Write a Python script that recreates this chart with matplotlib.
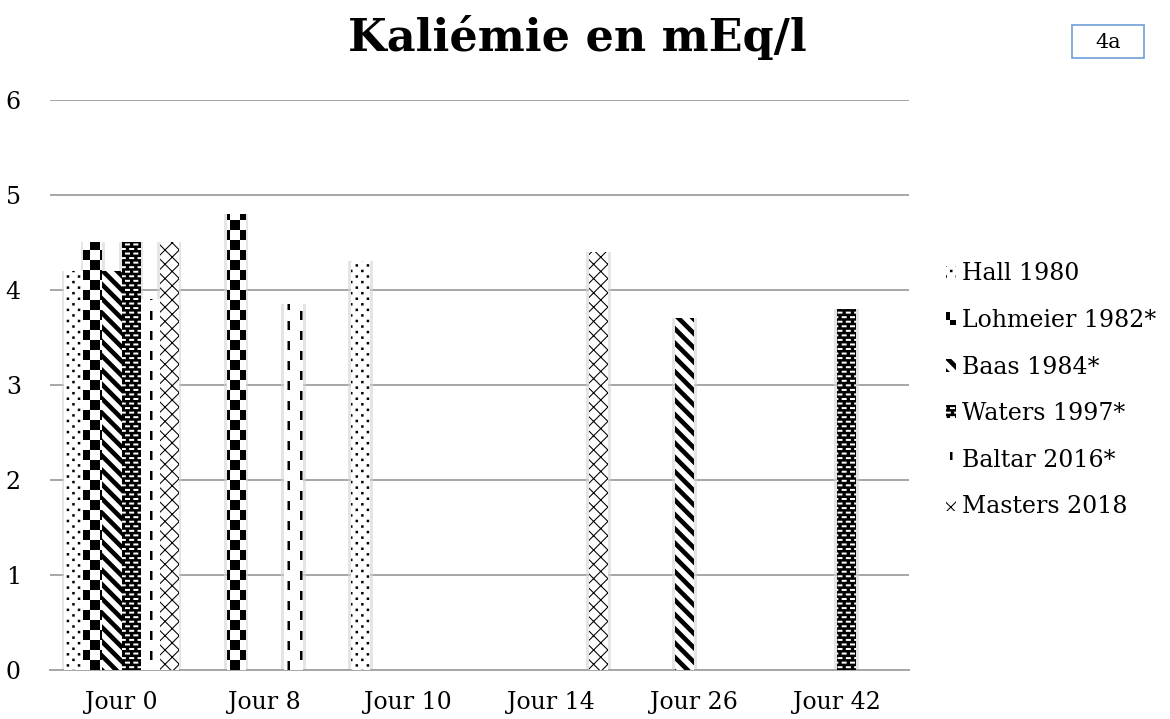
import matplotlib
matplotlib.use("Agg")
import matplotlib.hatch as mhatch
import matplotlib.pyplot as plt
import numpy as np
from matplotlib.patches import Rectangle
from matplotlib.path import Path

days = ["Jour 0", "Jour 8", "Jour 10", "Jour 14", "Jour 26", "Jour 42"]
studies = ["Hall 1980", "Lohmeier 1982*", "Baas 1984*", "Waters 1997*",
           "Baltar 2016*", "Masters 2018"]
hall = [4.2, None, 4.3, None, None, None]
lohmeier = [4.5, 4.8, None, None, None, None]
baas = [4.2, None, None, None, 3.7, None]
waters = [4.5, None, None, None, None, 3.8]
baltar = [3.9, 3.85, None, None, None, None]
masters = [4.5, None, None, 4.4, None, None]
yticks = [0, 1, 2, 3, 4, 5, 6]

plt.rcParams["font.family"] = ["DejaVu Serif"]
plt.rcParams["hatch.linewidth"] = 0.0


# --- Excel-like fill patterns, built as filled shapes in the unit hatch tile ---
def rect(x0, y0, w, h):
    return [(x0, y0), (x0 + w, y0), (x0 + w, y0 + h), (x0, y0 + h)]


def poly_path(polys):
    verts, codes = [], []
    for p in polys:
        verts += list(p) + [p[0]]
        codes += [Path.MOVETO] + [Path.LINETO] * (len(p) - 1) + [Path.CLOSEPOLY]
    return Path(np.array(verts, float), codes)


def back_bands(n, w):
    # stripes running top-left -> bottom-right
    return [[(c + 1, -1), (c - 2, 2), (c + w - 2, 2), (c + w + 1, -1)]
            for c in (k / n for k in range(-1, 2 * n + 1))]


def fwd_bands(n, w):
    return [[(c - 1, -1), (c + 2, 2), (c + w + 2, 2), (c + w - 1, -1)]
            for c in (k / n for k in range(-n - 1, n + 1))]


def staggered(nx, ny, w, h):
    out = []
    for j in range(ny):
        off = 0.5 / nx if j % 2 else 0.0
        for i in range(nx):
            out.append(rect(i / nx + off, j / ny, w, h))
    return out


def checker(n):
    return [rect(i / n, j / n, 1 / n, 1 / n)
            for i in range(n) for j in range(n) if (i + j) % 2 == 0]


def dashes(ncol, nrow, w, h):
    out = []
    for i in range(ncol):
        off = 0.5 / nrow if i % 2 else 0.0
        for j in range(nrow):
            out.append(rect(i / ncol, j / nrow + off, w, h))
    return out


FILLS = {
    ".": poly_path(staggered(9, 18, 0.025, 0.025)),
    "+": poly_path(checker(10)),
    "\\": poly_path(back_bands(7, 0.065)),
    "-": poly_path(staggered(12, 22, 0.05, 0.02)),
    "|": poly_path(dashes(8, 5, 0.025, 0.09)),
    "x": poly_path(back_bands(7, 0.015) + fwd_bands(7, 0.015)),
}
_orig_get_path = mhatch.get_path


def get_path(pattern, density=6):
    if pattern in FILLS:
        return FILLS[pattern]
    return _orig_get_path(pattern, density)


mhatch.get_path = get_path

series = [hall, lohmeier, baas, waters, baltar, masters]
hatches = [".", "+", "\\", "-", "|", "x"]
faces = ["white", "white", "white", "black", "white", "white"]
hatch_colors = ["black", "black", "black", "white", "black", "black"]

fig = plt.figure(figsize=(11.7, 7.19), dpi=100)
ax = fig.add_axes([0.0427, 0.0682, 0.734, 0.793])

x = np.arange(len(days))
width = 0.133
handles = []
for i, (vals, label) in enumerate(zip(series, studies)):
    v = np.array([np.nan if a is None else a for a in vals], float)
    pos = x + (i - 2.5) * width
    ax.bar(pos, v, width * 1.3, color="#d4d4d4", alpha=0.6, linewidth=0, zorder=2)
    bars = ax.bar(pos, v, width, facecolor=faces[i], edgecolor=hatch_colors[i],
                  linewidth=0, hatch=hatches[i], label=label, zorder=3)
    handles.append(bars)

ax.set_xlim(-0.5, len(days) - 0.5)
ax.set_ylim(0, 6)
ax.set_yticks(yticks)
ax.set_xticks(x)
ax.set_xticklabels(days)
ax.tick_params(axis="both", length=0, labelsize=17)
ax.tick_params(axis="y", pad=21)
ax.tick_params(axis="x", pad=15)
ax.yaxis.grid(True, color="#a6a6a6", linewidth=1.4)
ax.set_axisbelow(True)
for side in ["left", "right", "top"]:
    ax.spines[side].set_visible(False)
ax.spines["bottom"].set_color("#a6a6a6")
ax.spines["bottom"].set_linewidth(1.4)

ax.legend(handles=handles, loc="center left", bbox_to_anchor=(934 / 1170, 0.457),
          bbox_transform=fig.transFigure, frameon=False, fontsize=17,
          handlelength=0.45, handleheight=0.45, handletextpad=0.25,
          labelspacing=1.0, borderpad=0)

fig.text(577 / 1170, 1 - 38 / 719, "Kaliémie en mEq/l", ha="center", va="center",
         fontsize=32, fontweight="bold")
fig.add_artist(Rectangle((1072 / 1170, 1 - 58 / 719), 72 / 1170, 33 / 719,
                         transform=fig.transFigure, fill=False,
                         edgecolor="#6f9fd8", linewidth=1.2))
fig.text(1108 / 1170, 1 - 42 / 719, "4a", ha="center", va="center", fontsize=15)

fig.savefig("out.png", dpi=100)
